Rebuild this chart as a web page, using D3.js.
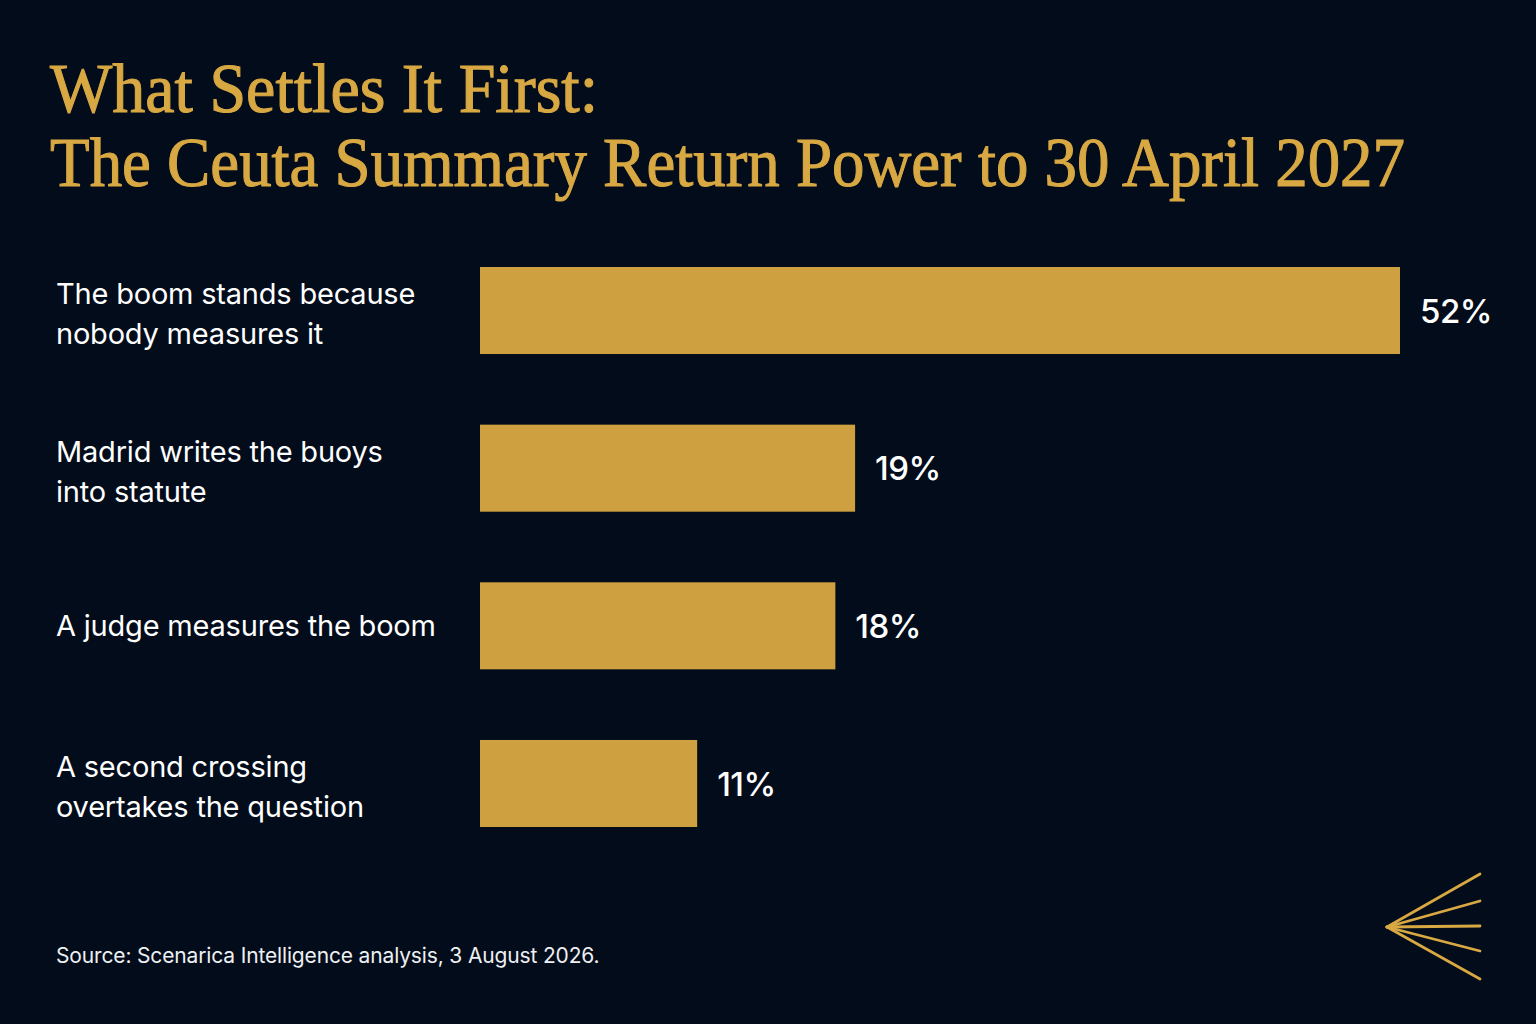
<!DOCTYPE html>
<html>
<head>
<meta charset="utf-8">
<script src="https://cdn.jsdelivr.net/npm/d3@7"></script>
<style>
  html, body { margin: 0; padding: 0; background: #020c1a; }
  svg { display: block; }
</style>
</head>
<body>
<script>
// Chart data
const categories = [
  ["The boom stands because", "nobody measures it"],
  ["Madrid writes the buoys", "into statute"],
  ["A judge measures the boom"],
  ["A second crossing", "overtakes the question"]
];
const values = [52, 19, 18, 11];
const valueLabels = ["52%", "19%", "18%", "11%"];
const titleLines = ["What Settles It First:", "The Ceuta Summary Return Power to 30 April 2027"];
const sourceText = "Source: Scenarica Intelligence analysis, 3 August 2026.";

// Layout
const width = 1536;
const height = 1024;
const gold = "#cfa03f";
const titleGold = "#d8a843";

const svg = d3.select("body")
  .append("svg")
  .attr("width", width)
  .attr("height", height);

svg.append("rect")
  .attr("width", width)
  .attr("height", height)
  .attr("fill", "#020c1a");

// Title (thin stroke gives the heavier serif look)
const title = svg.append("g").attr("class", "title");
title.selectAll("text")
  .data(titleLines)
  .join("text")
  .attr("x", 50)
  .attr("y", (d, i) => 112 + i * 74)
  .attr("fill", titleGold)
  .attr("stroke", titleGold)
  .attr("stroke-width", 1.1)
  .attr("font-family", "'Liberation Serif', 'DejaVu Serif', serif")
  .attr("font-size", 70)
  .attr("textLength", (d, i) => i === 0 ? 548 : 1355)
  .attr("lengthAdjust", "spacingAndGlyphs")
  .text(d => d);

// Scales (long bar is clamped at the right edge, as in the original)
const index = values.map((d, i) => i);
const x = d3.scaleLinear()
  .domain([0, 46.6])
  .range([480, 1400])
  .clamp(true);

const y = d3.scaleBand()
  .domain(index)
  .range([267, 827])
  .paddingInner(0.448)
  .paddingOuter(0);

// Bars
svg.append("g")
  .attr("class", "bars")
  .selectAll("rect")
  .data(index)
  .join("rect")
  .attr("x", x(0))
  .attr("y", i => y(i))
  .attr("width", i => x(values[i]) - x(0))
  .attr("height", y.bandwidth())
  .attr("fill", gold);

// Value labels
svg.append("g")
  .attr("class", "values")
  .selectAll("text")
  .data(index)
  .join("text")
  .attr("x", i => x(values[i]) + 20)
  .attr("y", i => y(i) + y.bandwidth() / 2)
  .attr("dy", "0.37em")
  .attr("fill", "#ffffff")
  .attr("font-family", "Inter, Roboto, sans-serif")
  .attr("font-weight", 500)
  .attr("font-size", 33)
  .attr("letter-spacing", -0.5)
  .text(i => valueLabels[i]);

// Category labels
const lineHeight = 40;
svg.append("g")
  .attr("class", "categories")
  .selectAll("text")
  .data(index)
  .join("text")
  .attr("x", 56)
  .attr("y", i => y(i) + y.bandwidth() / 2 - (categories[i].length - 1) * (lineHeight / 2 - 3.5))
  .attr("fill", "#ffffff")
  .attr("font-family", "Inter, Roboto, sans-serif")
  .attr("font-size", 29)
  .attr("letter-spacing", -0.2)
  .selectAll("tspan")
  .data(i => categories[i])
  .join("tspan")
  .attr("x", 56)
  .attr("dy", (d, j) => j === 0 ? "0.36em" : lineHeight)
  .text(d => d);

// Source
svg.append("text")
  .attr("x", 56)
  .attr("y", 963)
  .attr("fill", "#eef0f3")
  .attr("font-family", "Inter, Roboto, sans-serif")
  .attr("font-size", 21)
  .attr("letter-spacing", -0.15)
  .text(sourceText);

// Fan mark, bottom right
const apex = [1387, 927];
const ends = [874, 901, 926, 951, 979];
svg.append("g")
  .attr("class", "mark")
  .selectAll("line")
  .data(ends)
  .join("line")
  .attr("x1", apex[0])
  .attr("y1", apex[1])
  .attr("x2", 1480)
  .attr("y2", d => d)
  .attr("stroke", titleGold)
  .attr("stroke-width", 2.8)
  .attr("stroke-linecap", "round");
</script>
</body>
</html>
